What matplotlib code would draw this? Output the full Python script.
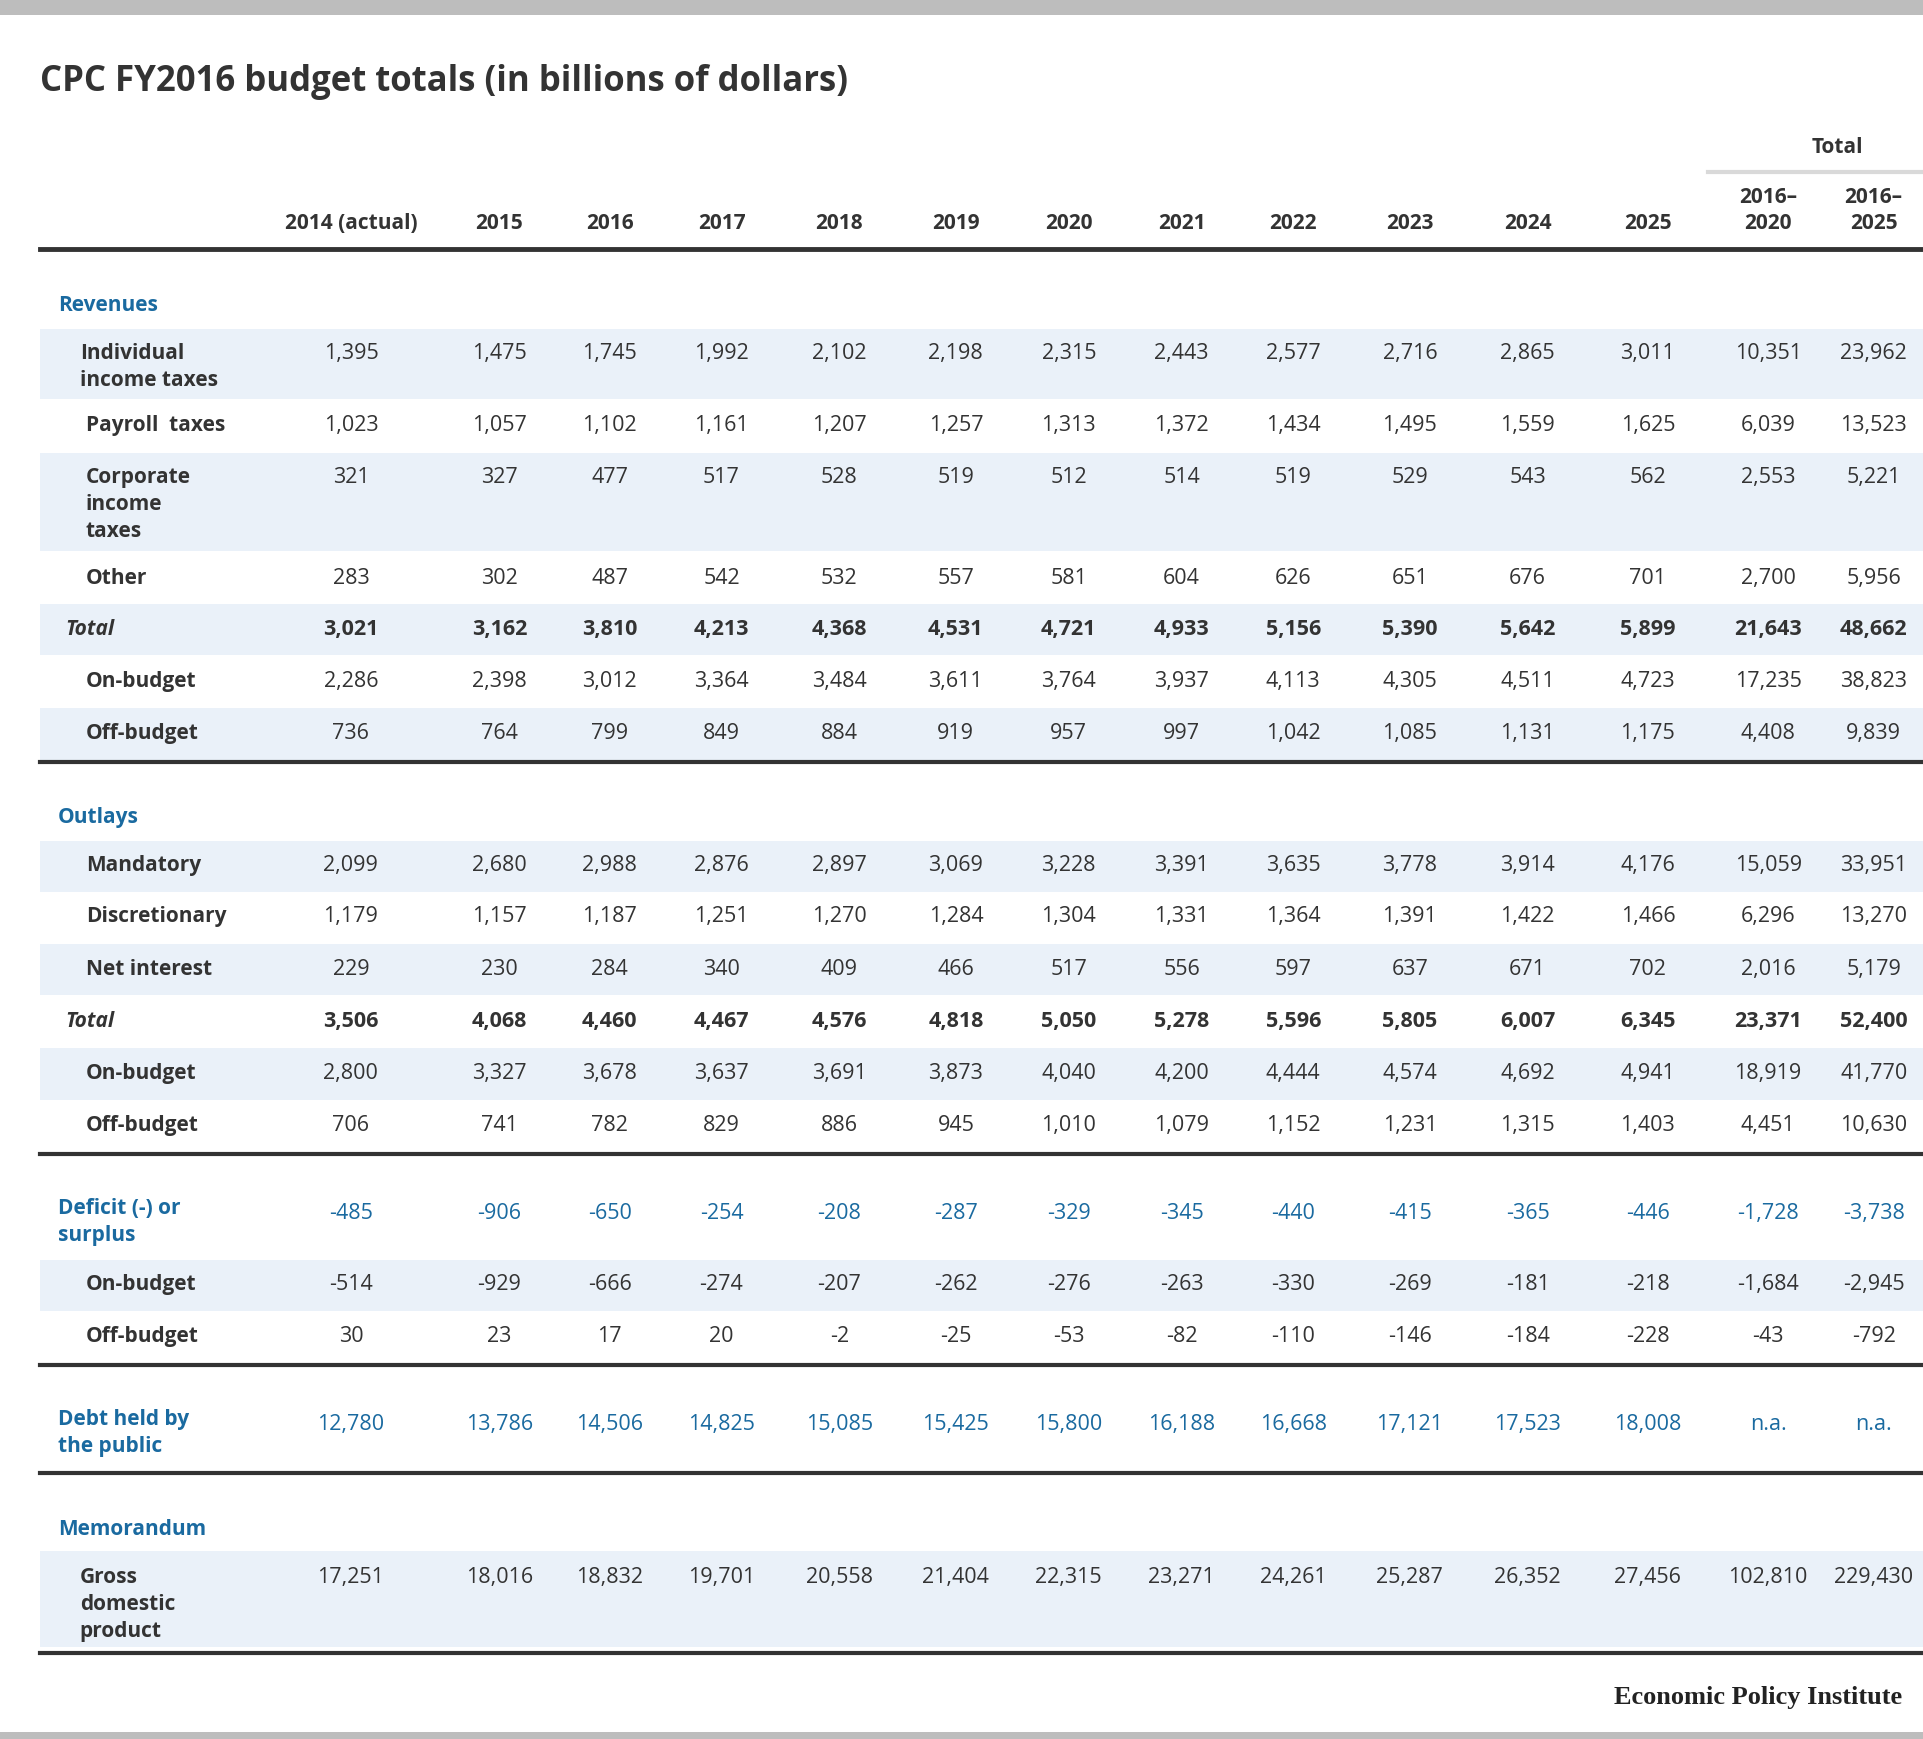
import matplotlib.pyplot as plt
from matplotlib.patches import Rectangle

plt.rcParams['font.family'] = ['Open Sans', 'DejaVu Sans']

columns = ['2014 (actual)', '2015', '2016', '2017', '2018', '2019', '2020',
           '2021', '2022', '2023', '2024', '2025', '2016–\n2020', '2016–\n2025']

rev_individual = ['1,395', '1,475', '1,745', '1,992', '2,102', '2,198', '2,315', '2,443', '2,577', '2,716', '2,865', '3,011', '10,351', '23,962']
rev_payroll = ['1,023', '1,057', '1,102', '1,161', '1,207', '1,257', '1,313', '1,372', '1,434', '1,495', '1,559', '1,625', '6,039', '13,523']
rev_corporate = ['321', '327', '477', '517', '528', '519', '512', '514', '519', '529', '543', '562', '2,553', '5,221']
rev_other = ['283', '302', '487', '542', '532', '557', '581', '604', '626', '651', '676', '701', '2,700', '5,956']
rev_total = ['3,021', '3,162', '3,810', '4,213', '4,368', '4,531', '4,721', '4,933', '5,156', '5,390', '5,642', '5,899', '21,643', '48,662']
rev_on = ['2,286', '2,398', '3,012', '3,364', '3,484', '3,611', '3,764', '3,937', '4,113', '4,305', '4,511', '4,723', '17,235', '38,823']
rev_off = ['736', '764', '799', '849', '884', '919', '957', '997', '1,042', '1,085', '1,131', '1,175', '4,408', '9,839']

out_mandatory = ['2,099', '2,680', '2,988', '2,876', '2,897', '3,069', '3,228', '3,391', '3,635', '3,778', '3,914', '4,176', '15,059', '33,951']
out_discretionary = ['1,179', '1,157', '1,187', '1,251', '1,270', '1,284', '1,304', '1,331', '1,364', '1,391', '1,422', '1,466', '6,296', '13,270']
out_interest = ['229', '230', '284', '340', '409', '466', '517', '556', '597', '637', '671', '702', '2,016', '5,179']
out_total = ['3,506', '4,068', '4,460', '4,467', '4,576', '4,818', '5,050', '5,278', '5,596', '5,805', '6,007', '6,345', '23,371', '52,400']
out_on = ['2,800', '3,327', '3,678', '3,637', '3,691', '3,873', '4,040', '4,200', '4,444', '4,574', '4,692', '4,941', '18,919', '41,770']
out_off = ['706', '741', '782', '829', '886', '945', '1,010', '1,079', '1,152', '1,231', '1,315', '1,403', '4,451', '10,630']

def_total = ['-485', '-906', '-650', '-254', '-208', '-287', '-329', '-345', '-440', '-415', '-365', '-446', '-1,728', '-3,738']
def_on = ['-514', '-929', '-666', '-274', '-207', '-262', '-276', '-263', '-330', '-269', '-181', '-218', '-1,684', '-2,945']
def_off = ['30', '23', '17', '20', '-2', '-25', '-53', '-82', '-110', '-146', '-184', '-228', '-43', '-792']

debt = ['12,780', '13,786', '14,506', '14,825', '15,085', '15,425', '15,800', '16,188', '16,668', '17,121', '17,523', '18,008', 'n.a.', 'n.a.']
gdp = ['17,251', '18,016', '18,832', '19,701', '20,558', '21,404', '22,315', '23,271', '24,261', '25,287', '26,352', '27,456', '102,810', '229,430']

BLUE = '#1a6aa0'
DARK = '#333333'
SHADE = '#eaf1f9'
W, H = 1568, 1417
col_x = [286, 407, 497, 588, 684, 779, 871, 963, 1054, 1149, 1245, 1343, 1441, 1527]

fig = plt.figure(figsize=(19.24, 17.39), dpi=100)
ax = fig.add_axes([0, 0, 1, 1])
ax.set_xlim(0, W)
ax.set_ylim(H, 0)
ax.axis('off')

# grey frame bars
ax.add_patch(Rectangle((0, 0), W, 12, color='#bdbdbd', lw=0))
ax.add_patch(Rectangle((0, 1411), W, 8, color='#bdbdbd', lw=0))

ax.text(33, 67, 'CPC FY2016 budget totals (in billions of dollars)', fontsize=25,
        fontweight='bold', color=DARK, va='center')

# header
ax.text(1497, 120, 'Total', fontsize=15, fontweight='bold', color=DARK, ha='center', va='center')
ax.plot([1392, W], [140, 140], color='#d9d9d9', lw=3)
for x, c in zip(col_x, columns):
    if '\n' in c:
        top, bot = c.split('\n')
        ax.text(x, 161, top, fontsize=15, fontweight='bold', color=DARK, ha='center', va='center')
        ax.text(x, 182, bot, fontsize=15, fontweight='bold', color=DARK, ha='center', va='center')
    else:
        ax.text(x, 182, c, fontsize=15, fontweight='bold', color=DARK, ha='center', va='center')
ax.plot([33, W], [203, 203], color=DARK, lw=3.5)

# (label, values, y of first line, band top, band bottom, shaded, style, label x)
rows = [
    ('Individual\nincome taxes', rev_individual, 288, 268, 325, True, 'normal', 65),
    ('Payroll  taxes', rev_payroll, 347, 326, 368, False, 'normal', 70),
    ('Corporate\nincome\ntaxes', rev_corporate, 389, 369, 449, True, 'normal', 70),
    ('Other', rev_other, 471, 450, 491, False, 'normal', 70),
    ('Total', rev_total, 513, 492, 534, True, 'total', 53),
    ('On-budget', rev_on, 555, 535, 576, False, 'normal', 70),
    ('Off-budget', rev_off, 598, 577, 619, True, 'normal', 70),
    ('Mandatory', out_mandatory, 705, 685, 727, True, 'normal', 70),
    ('Discretionary', out_discretionary, 747, 727, 769, False, 'normal', 70),
    ('Net interest', out_interest, 790, 769, 811, True, 'normal', 70),
    ('Total', out_total, 832, 811, 853, False, 'total', 53),
    ('On-budget', out_on, 875, 854, 896, True, 'normal', 70),
    ('Off-budget', out_off, 917, 896, 938, False, 'normal', 70),
    ('Deficit (-) or\nsurplus', def_total, 989, 960, 1026, False, 'blue', 47),
    ('On-budget', def_on, 1047, 1027, 1068, True, 'normal', 70),
    ('Off-budget', def_off, 1089, 1068, 1110, False, 'normal', 70),
    ('Debt held by\nthe public', debt, 1161, 1130, 1198, False, 'blue', 47),
    ('Gross\ndomestic\nproduct', gdp, 1285, 1264, 1342, True, 'normal', 65),
]

for label, vals, y, top, bot, shaded, style, lx in rows:
    if shaded:
        ax.add_patch(Rectangle((33, top), W - 33, bot - top, color=SHADE, lw=0, zorder=0))
    col = BLUE if style == 'blue' else DARK
    lstyle = 'italic' if style == 'total' else 'normal'
    vweight = 'bold' if style == 'total' else 'normal'
    ly = y - 4 if style == 'blue' else y
    for i, line in enumerate(label.split('\n')):
        ax.text(lx, ly + i * 22, line, fontsize=15, fontweight='bold', fontstyle=lstyle,
                color=col, va='center')
    for x, v in zip(col_x, vals):
        ax.text(x, y, v, fontsize=15.5, fontweight=vweight, color=col, ha='center', va='center')

for name, y in [('Revenues', 249), ('Outlays', 666), ('Memorandum', 1246)]:
    ax.text(47, y, name, fontsize=15, fontweight='bold', color=BLUE, va='center')

for y in [621, 940, 1112, 1200, 1347]:
    ax.plot([33, W], [y, y], color=DARK, lw=3)

ax.text(1550, 1383, 'Economic Policy Institute', fontsize=19, fontweight='bold',
        family=['Liberation Serif', 'DejaVu Serif'], color='#222222', ha='right', va='center')

fig.savefig('out.png', dpi=100)
